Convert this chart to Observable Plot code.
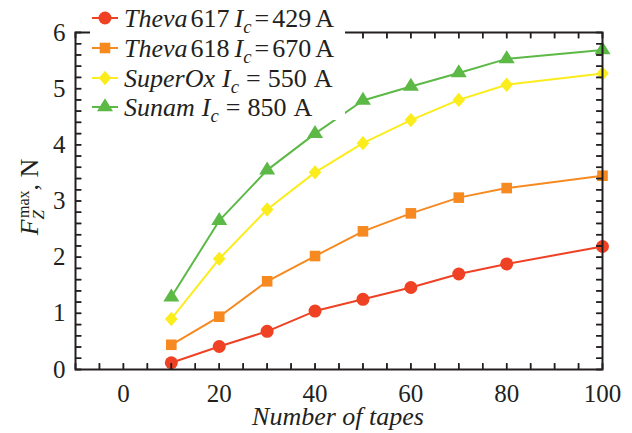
<!DOCTYPE html>
<html><head><meta charset="utf-8">
<script src="https://cdn.jsdelivr.net/npm/d3@7"></script>
<script src="https://cdn.jsdelivr.net/npm/@observablehq/plot@0.6"></script>
<style>
body{margin:0;background:#fff;}
#wrap{position:relative;width:632px;height:433px;}
</style></head><body><div id="wrap"></div>
<script>
// ---- data ----
const tapes = [10, 20, 30, 40, 50, 60, 70, 80, 100];
const theva617 = [0.12, 0.41, 0.68, 1.04, 1.25, 1.46, 1.70, 1.88, 2.19];
const theva618 = [0.44, 0.94, 1.57, 2.02, 2.46, 2.78, 3.06, 3.23, 3.45];
const superOx  = [0.90, 1.97, 2.85, 3.51, 4.03, 4.44, 4.80, 5.07, 5.27];
const sunam    = [1.29, 2.65, 3.55, 4.20, 4.79, 5.04, 5.28, 5.53, 5.69];
const seriesValues = [theva617, theva618, superOx, sunam];
const seriesNames = ["Theva617", "Theva618", "SuperOx", "Sunam"];
const brands = ["Theva", "Theva", "SuperOx", "Sunam"];
const models = ["617", "618", "", ""];
const criticalCurrents = ["429", "670", "550", "850"];
const seriesColors = ["#ef4123", "#f6891f", "#fbec1c", "#5cb946"];
const xTicks = [0, 20, 40, 60, 80, 100];
const yTicks = [0, 1, 2, 3, 4, 5, 6];
const xMinor = d3.range(-10, 100.001, 5);
const yMinor = d3.range(0, 30.001, 1).map(d => d / 5);
const xTitle = "Number of tapes";

// ---- marker shapes ----
const shapes = [
  {draw(c){ const r = 6.5; c.moveTo(r, 0); c.arc(0, 0, r, 0, 2 * Math.PI); }},
  {draw(c){ const s = 5.3; c.moveTo(-s, -s); c.lineTo(s, -s); c.lineTo(s, s); c.lineTo(-s, s); c.closePath(); }},
  {draw(c){ const w = 6.3, h = 7.2; c.moveTo(0, -h); c.lineTo(w, 0); c.lineTo(0, h); c.lineTo(-w, 0); c.closePath(); }},
  {draw(c){ const w = 8, h = 13; c.moveTo(0, -h * 2 / 3); c.lineTo(w, h / 3); c.lineTo(-w, h / 3); c.closePath(); }}
];
const tick = 6;
const tickUp = {draw(c){ c.moveTo(0, 0); c.lineTo(0, -tick); }};
const tickDown = {draw(c){ c.moveTo(0, 0); c.lineTo(0, tick); }};
const tickRight = {draw(c){ c.moveTo(0, 0); c.lineTo(tick, 0); }};
const tickLeft = {draw(c){ c.moveTo(0, 0); c.lineTo(-tick, 0); }};

const rows = seriesNames.flatMap((name, i) => tapes.map((t, j) => ({series: name, idx: i, x: t, y: seriesValues[i][j]})));

const W = 632, H = 433, mL = 75, mR = 30, mT = 32, mB = 64;
const innerW = W - mL - mR, innerH = H - mT - mB;
const ink = "#231f20";
const serif = "'Liberation Serif','Times New Roman',serif";
const tickStyle = {fill: "none", stroke: ink, strokeWidth: 1.5, r: 3};
const marks = [];
seriesNames.forEach((name, i) => {
  marks.push(Plot.line(rows.filter(d => d.idx === i), {x: "x", y: "y", stroke: seriesColors[i], strokeWidth: 2}));
});
seriesNames.forEach((name, i) => {
  marks.push(Plot.dot(rows.filter(d => d.idx === i), {x: "x", y: "y", fill: seriesColors[i], stroke: "none", symbol: shapes[i], r: 6}));
});
marks.push(
  Plot.tickX(xMinor, {x: d => d, insetTop: innerH - tick, stroke: ink, strokeWidth: 1.5}),
  Plot.tickX(xMinor, {x: d => d, insetBottom: innerH - tick, stroke: ink, strokeWidth: 1.5}),
  Plot.tickY(yMinor, {y: d => d, insetRight: innerW - tick, stroke: ink, strokeWidth: 1.5}),
  Plot.tickY(yMinor, {y: d => d, insetLeft: innerW - tick, stroke: ink, strokeWidth: 1.5}),
  Plot.dot(xMinor, {x: d => d, frameAnchor: "bottom", symbol: tickUp, ...tickStyle}),
  Plot.dot(xMinor, {x: d => d, frameAnchor: "top", symbol: tickDown, ...tickStyle}),
  Plot.dot(yMinor, {y: d => d, frameAnchor: "left", symbol: tickRight, ...tickStyle}),
  Plot.dot(yMinor, {y: d => d, frameAnchor: "right", symbol: tickLeft, ...tickStyle}),
  Plot.axisX(xTicks, {anchor: "bottom", tickSize: 0, tickPadding: 15, fontSize: 25, fill: ink, label: null, tickFormat: d => String(d)}),
  Plot.axisY(yTicks, {anchor: "left", tickSize: 0, tickPadding: 10, fontSize: 25, fill: ink, label: null, tickFormat: d => String(d)}),
  Plot.frame({stroke: ink, strokeWidth: 2})
);

const chart = Plot.plot({
  width: W, height: H,
  marginLeft: mL, marginRight: mR, marginTop: mT, marginBottom: mB,
  x: {domain: [-10, 100], axis: null},
  y: {domain: [0, 6], axis: null},
  style: {fontFamily: serif, background: "#fff", color: ink},
  marks
});
document.getElementById("wrap").appendChild(chart);

const svg = d3.select(chart);

// ---- legend (inside the chart svg) ----
const lg = svg.append("g").attr("font-family", serif).attr("font-size", 26).attr("fill", ink).attr("text-anchor", "start");
lg.append("rect").attr("x", 90).attr("y", 0).attr("width", 255).attr("height", 120).attr("fill", "#fff");
const rowY = [18, 48, 78, 107];
seriesNames.forEach((name, i) => {
  const cy = rowY[i];
  lg.append("line").attr("x1", 92).attr("x2", 118).attr("y1", cy).attr("y2", cy)
    .attr("stroke", seriesColors[i]).attr("stroke-width", 2);
  lg.append("path").attr("transform", `translate(105,${cy})`).attr("fill", seriesColors[i]).attr("d", d3.symbol(shapes[i])());
  const tight = models[i] !== "";
  const gap = tight ? 3 : 7;
  const parts = [[brands[i], true, 0, 0]];
  if (tight) parts.push([models[i], false, 3, 0]);
  parts.push(["I", true, tight ? 5 : 7, 0]);
  parts.push(["c", true, 0, 6, 0.72]);
  parts.push(["=", false, gap, -6]);
  parts.push([criticalCurrents[i], false, gap, 0]);
  parts.push(["A", false, tight ? 4 : 7, 0]);
  const t = lg.append("text").attr("x", 124).attr("y", cy + 9).attr("text-anchor", "start");
  parts.forEach(([txt, ital, dx, dy, scale]) => {
    const ts = t.append("tspan").text(txt).attr("dx", dx).attr("dy", dy);
    if (ital) ts.attr("font-style", "italic");
    if (scale) ts.attr("font-size", 26 * scale);
  });
});

// ---- x title ----
svg.append("text").attr("x", 338).attr("y", 425).attr("text-anchor", "middle")
  .attr("font-family", serif).attr("font-size", 26).attr("font-style", "italic").attr("fill", ink)
  .text(xTitle);

// ---- y title: F_Z^max, N ----
const yt = svg.append("text").attr("transform", "translate(38,197) rotate(-90)").attr("text-anchor", "middle")
  .attr("font-family", serif).attr("font-size", 26).attr("fill", ink);
yt.append("tspan").attr("font-style", "italic").text("F");
yt.append("tspan").attr("font-style", "italic").attr("font-size", 17).attr("dy", 6).text("Z");
yt.append("tspan").attr("font-size", 16).attr("dx", -8).attr("dy", -15).text("max");
yt.append("tspan").attr("dy", 9).text(", N");
</script>
</body></html>
